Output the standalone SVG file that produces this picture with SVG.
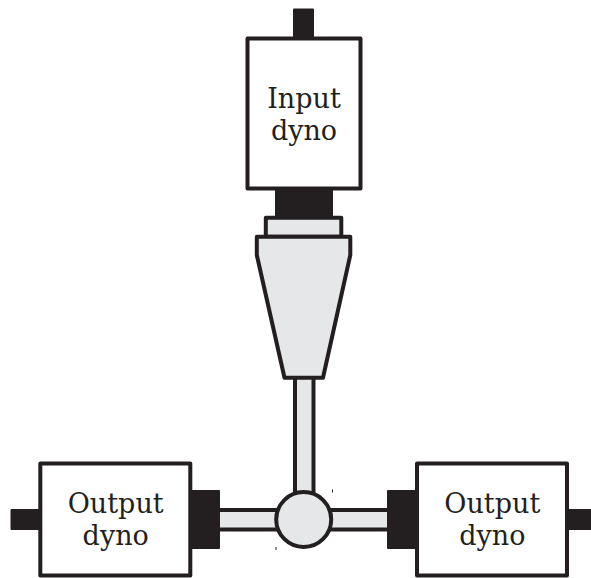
<svg xmlns="http://www.w3.org/2000/svg" width="591" height="578" viewBox="0 0 591 578">
<style>
.k{fill:#231f20;stroke:none}
.box{fill:#fff;stroke:#231f20;stroke-width:4;stroke-linejoin:round}
.g{fill:#e6e7e8;stroke:#231f20;stroke-width:4;stroke-linejoin:round}
text{font-family:"DejaVu Serif",serif;font-size:27px;fill:#231f20;text-anchor:middle}
</style>
<g id="connectors">
<rect class="g" x="295" y="370" width="18.500" height="130"/>
<rect class="g" x="215" y="510" width="178" height="19.500"/>
<rect class="k" x="332" y="489.500" width="1" height="3"/>
<rect class="k" x="275.500" y="547" width="1" height="3"/>
</g>
<g id="input-dyno">
<rect class="k" x="293" y="8.500" width="21" height="30" rx="1"/>
<rect class="k" x="275" y="187" width="58" height="31"/>
<rect class="g" x="265.800" y="217.800" width="75.500" height="19"/>
<path class="g" d="M256.800 236.800H350.300L350.300 255L323 377.800H284.500L256.800 255Z"/>
<rect class="box" x="247.500" y="38.500" width="113" height="150"/>
<text x="304" y="108">Input</text>
<text x="304" y="140">dyno</text>
</g>
<g id="hub">
<circle class="g" cx="303.700" cy="519.500" r="27.500"/>
</g>
<g id="output-dyno-left">
<rect class="k" x="10.500" y="509" width="30" height="21" rx="1"/>
<rect class="k" x="188" y="490" width="32" height="59" rx="1"/>
<rect class="box" x="40.300" y="463.500" width="150" height="112"/>
<text x="115.700" y="513">Output</text>
<text x="115.700" y="545">dyno</text>
</g>
<g id="output-dyno-right">
<rect class="k" x="567" y="509" width="24" height="21"/>
<rect class="k" x="387" y="490" width="32" height="59" rx="1"/>
<rect class="box" x="417" y="463.500" width="150" height="112"/>
<text x="492.300" y="513">Output</text>
<text x="492.300" y="545">dyno</text>
</g>
</svg>
